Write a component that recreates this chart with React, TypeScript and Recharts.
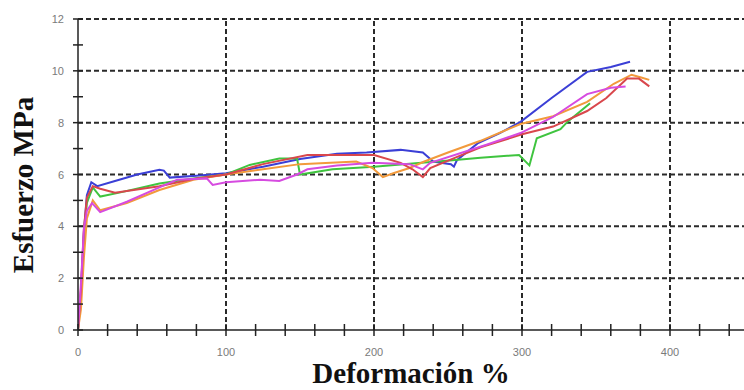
import { LineChart, Line, XAxis, YAxis, ReferenceLine, Label } from 'recharts';

// strain (%) / stress (MPa) pairs, one array per specimen
const blueCurve = [
  [0, 0], [2, 1.5], [4, 3.8], [6, 5.2], [9, 5.7], [13, 5.55], [25, 5.75], [40, 6.0], [55, 6.18],
  [58, 6.15], [62, 5.88], [80, 5.95], [100, 6.05], [125, 6.3], [150, 6.6], [175, 6.8], [195, 6.85],
  [218, 6.95], [233, 6.85], [240, 6.5], [245, 6.45], [252, 6.4], [254, 6.3], [256, 6.55], [270, 7.2],
  [285, 7.6], [299, 8.03], [320, 8.95], [344, 9.96], [360, 10.15], [373, 10.35],
];
const greenCurve = [
  [0, 0], [2, 1.4], [4, 3.6], [6, 4.9], [10, 5.5], [15, 5.15], [28, 5.3], [55, 5.65], [78, 5.85],
  [100, 6.0], [116, 6.37], [136, 6.62], [148, 6.62], [150, 6.0], [172, 6.2], [200, 6.3], [226, 6.42],
  [253, 6.55], [272, 6.65], [290, 6.72], [298, 6.75], [305, 6.35], [310, 7.4], [326, 7.75],
  [331, 8.05], [346, 8.75],
];
const orangeCurve = [
  [0, 0], [2, 0.8], [4, 2.8], [6, 4.3], [10, 5.0], [15, 4.62], [33, 4.9], [55, 5.4], [78, 5.8],
  [100, 6.0], [125, 6.2], [150, 6.4], [188, 6.5], [199, 6.25], [206, 5.9], [213, 6.05], [224, 6.25],
  [234, 6.5], [250, 6.85], [272, 7.3], [299, 7.95], [321, 8.25], [344, 8.8], [362, 9.5], [374, 9.85],
  [380, 9.75], [386, 9.65],
];
const redCurve = [
  [0, 0], [2, 1.6], [4, 3.9], [6, 5.1], [10, 5.55], [15, 5.45], [25, 5.3], [55, 5.55], [80, 5.85],
  [100, 6.0], [125, 6.4], [155, 6.75], [200, 6.75], [218, 6.45], [226, 6.2], [233, 5.9], [238, 6.25],
  [255, 6.65], [272, 7.05], [300, 7.55], [321, 7.85], [344, 8.45], [357, 8.95], [371, 9.7],
  [379, 9.7], [386, 9.4],
];
const magentaCurve = [
  [0, 0], [2, 1.8], [4, 3.9], [6, 4.6], [9.5, 4.9], [15, 4.55], [33, 4.95], [55, 5.5], [67, 5.8],
  [87, 5.85], [91, 5.6], [100, 5.7], [123, 5.8], [136, 5.75], [148, 6.0], [155, 6.2], [175, 6.35],
  [199, 6.45], [224, 6.4], [233, 6.2], [238, 6.45], [276, 7.15], [299, 7.6], [321, 8.22],
  [344, 9.1], [360, 9.35], [370, 9.4],
];

const series = [
  { name: 'blue', points: blueCurve, color: '#3b3fd6' },
  { name: 'green', points: greenCurve, color: '#3fc43f' },
  { name: 'orange', points: orangeCurve, color: '#f29a3c' },
  { name: 'red', points: redCurve, color: '#d9474c' },
  { name: 'magenta', points: magentaCurve, color: '#d64be0' },
];

const xTicks = [0, 20, 40, 60, 80, 100, 120, 140, 160, 180, 200, 220, 240, 260, 280, 300, 320, 340, 360, 380, 400, 420, 440];
const xLabels = [0, 100, 200, 300, 400];
const yTicks = [0, 1, 2, 3, 4, 5, 6, 7, 8, 9, 10, 11, 12];
const yLabels = [0, 2, 4, 6, 8, 10, 12];
const gridX = [100, 200, 300, 400];
const gridY = [2, 4, 6, 8, 10, 12];

const tickColor = '#7a7a7a';
const axisColor = '#222';

const XTick = ({ x, y, payload }: any) => (
  <g>
    <line x1={x} x2={x} y1={y - 6} y2={y + 6} stroke={axisColor} strokeWidth={1.5} />
    {xLabels.includes(payload.value) && (
      <text x={x} y={y + 26} textAnchor="middle" fontSize={11} fill={tickColor} fontFamily="Liberation Sans, Arial, sans-serif">
        {payload.value}
      </text>
    )}
  </g>
);

const YTick = ({ x, y, payload }: any) => (
  <g>
    <line x1={x - 5} x2={x + 5} y1={y} y2={y} stroke={axisColor} strokeWidth={1.5} />
    {yLabels.includes(payload.value) && (
      <text x={x - 14} y={y + 4} textAnchor="end" fontSize={11} fill={tickColor} fontFamily="Liberation Sans, Arial, sans-serif">
        {payload.value}
      </text>
    )}
  </g>
);

const titleStyle = {
  fontFamily: '"Liberation Serif", "Times New Roman", serif',
  fontWeight: 'bold',
  fontSize: 29,
  fill: '#111',
};

const App = () => {
  return (
    <div style={{ position: 'absolute', left: 0, top: 0, background: '#fff' }}>
      <LineChart width={744} height={390} margin={{ top: 19, right: 0, bottom: 0, left: 0 }}>
        <XAxis
          type="number"
          dataKey="x"
          domain={[0, 450]}
          ticks={xTicks}
          interval={0}
          height={60}
          tickSize={0}
          tickMargin={0}
          tickLine={false}
          tick={<XTick />}
          stroke={axisColor}
          strokeWidth={1.5}
          allowDataOverflow
        >
          <Label
            content={() => (
              <text x={411} y={383} textAnchor="middle" style={titleStyle}>
                Deformación %
              </text>
            )}
          />
        </XAxis>
        <YAxis
          type="number"
          dataKey="y"
          domain={[0, 12]}
          ticks={yTicks}
          interval={0}
          width={78}
          tickSize={0}
          tickMargin={0}
          tickLine={false}
          tick={<YTick />}
          stroke={axisColor}
          strokeWidth={1.5}
          allowDataOverflow
        >
          <Label
            content={() => (
              <text transform="translate(33,185) rotate(-90)" textAnchor="middle" style={titleStyle}>
                Esfuerzo MPa
              </text>
            )}
          />
        </YAxis>

        {gridY.map((v) => (
          <ReferenceLine key={`gy-${v}`} y={v} stroke="#2a2a2a" strokeWidth={2} strokeDasharray="5 3" />
        ))}
        {gridX.map((v) => (
          <ReferenceLine key={`gx-${v}`} x={v} stroke="#2a2a2a" strokeWidth={2} strokeDasharray="5 3" />
        ))}

        {series.map((s) => (
          <Line
            key={s.name}
            data={s.points.map(([x, y]) => ({ x, y }))}
            dataKey="y"
            type="linear"
            stroke={s.color}
            strokeWidth={2}
            dot={false}
            activeDot={false}
            isAnimationActive={false}
          />
        ))}
      </LineChart>
    </div>
  );
};

export default App;
